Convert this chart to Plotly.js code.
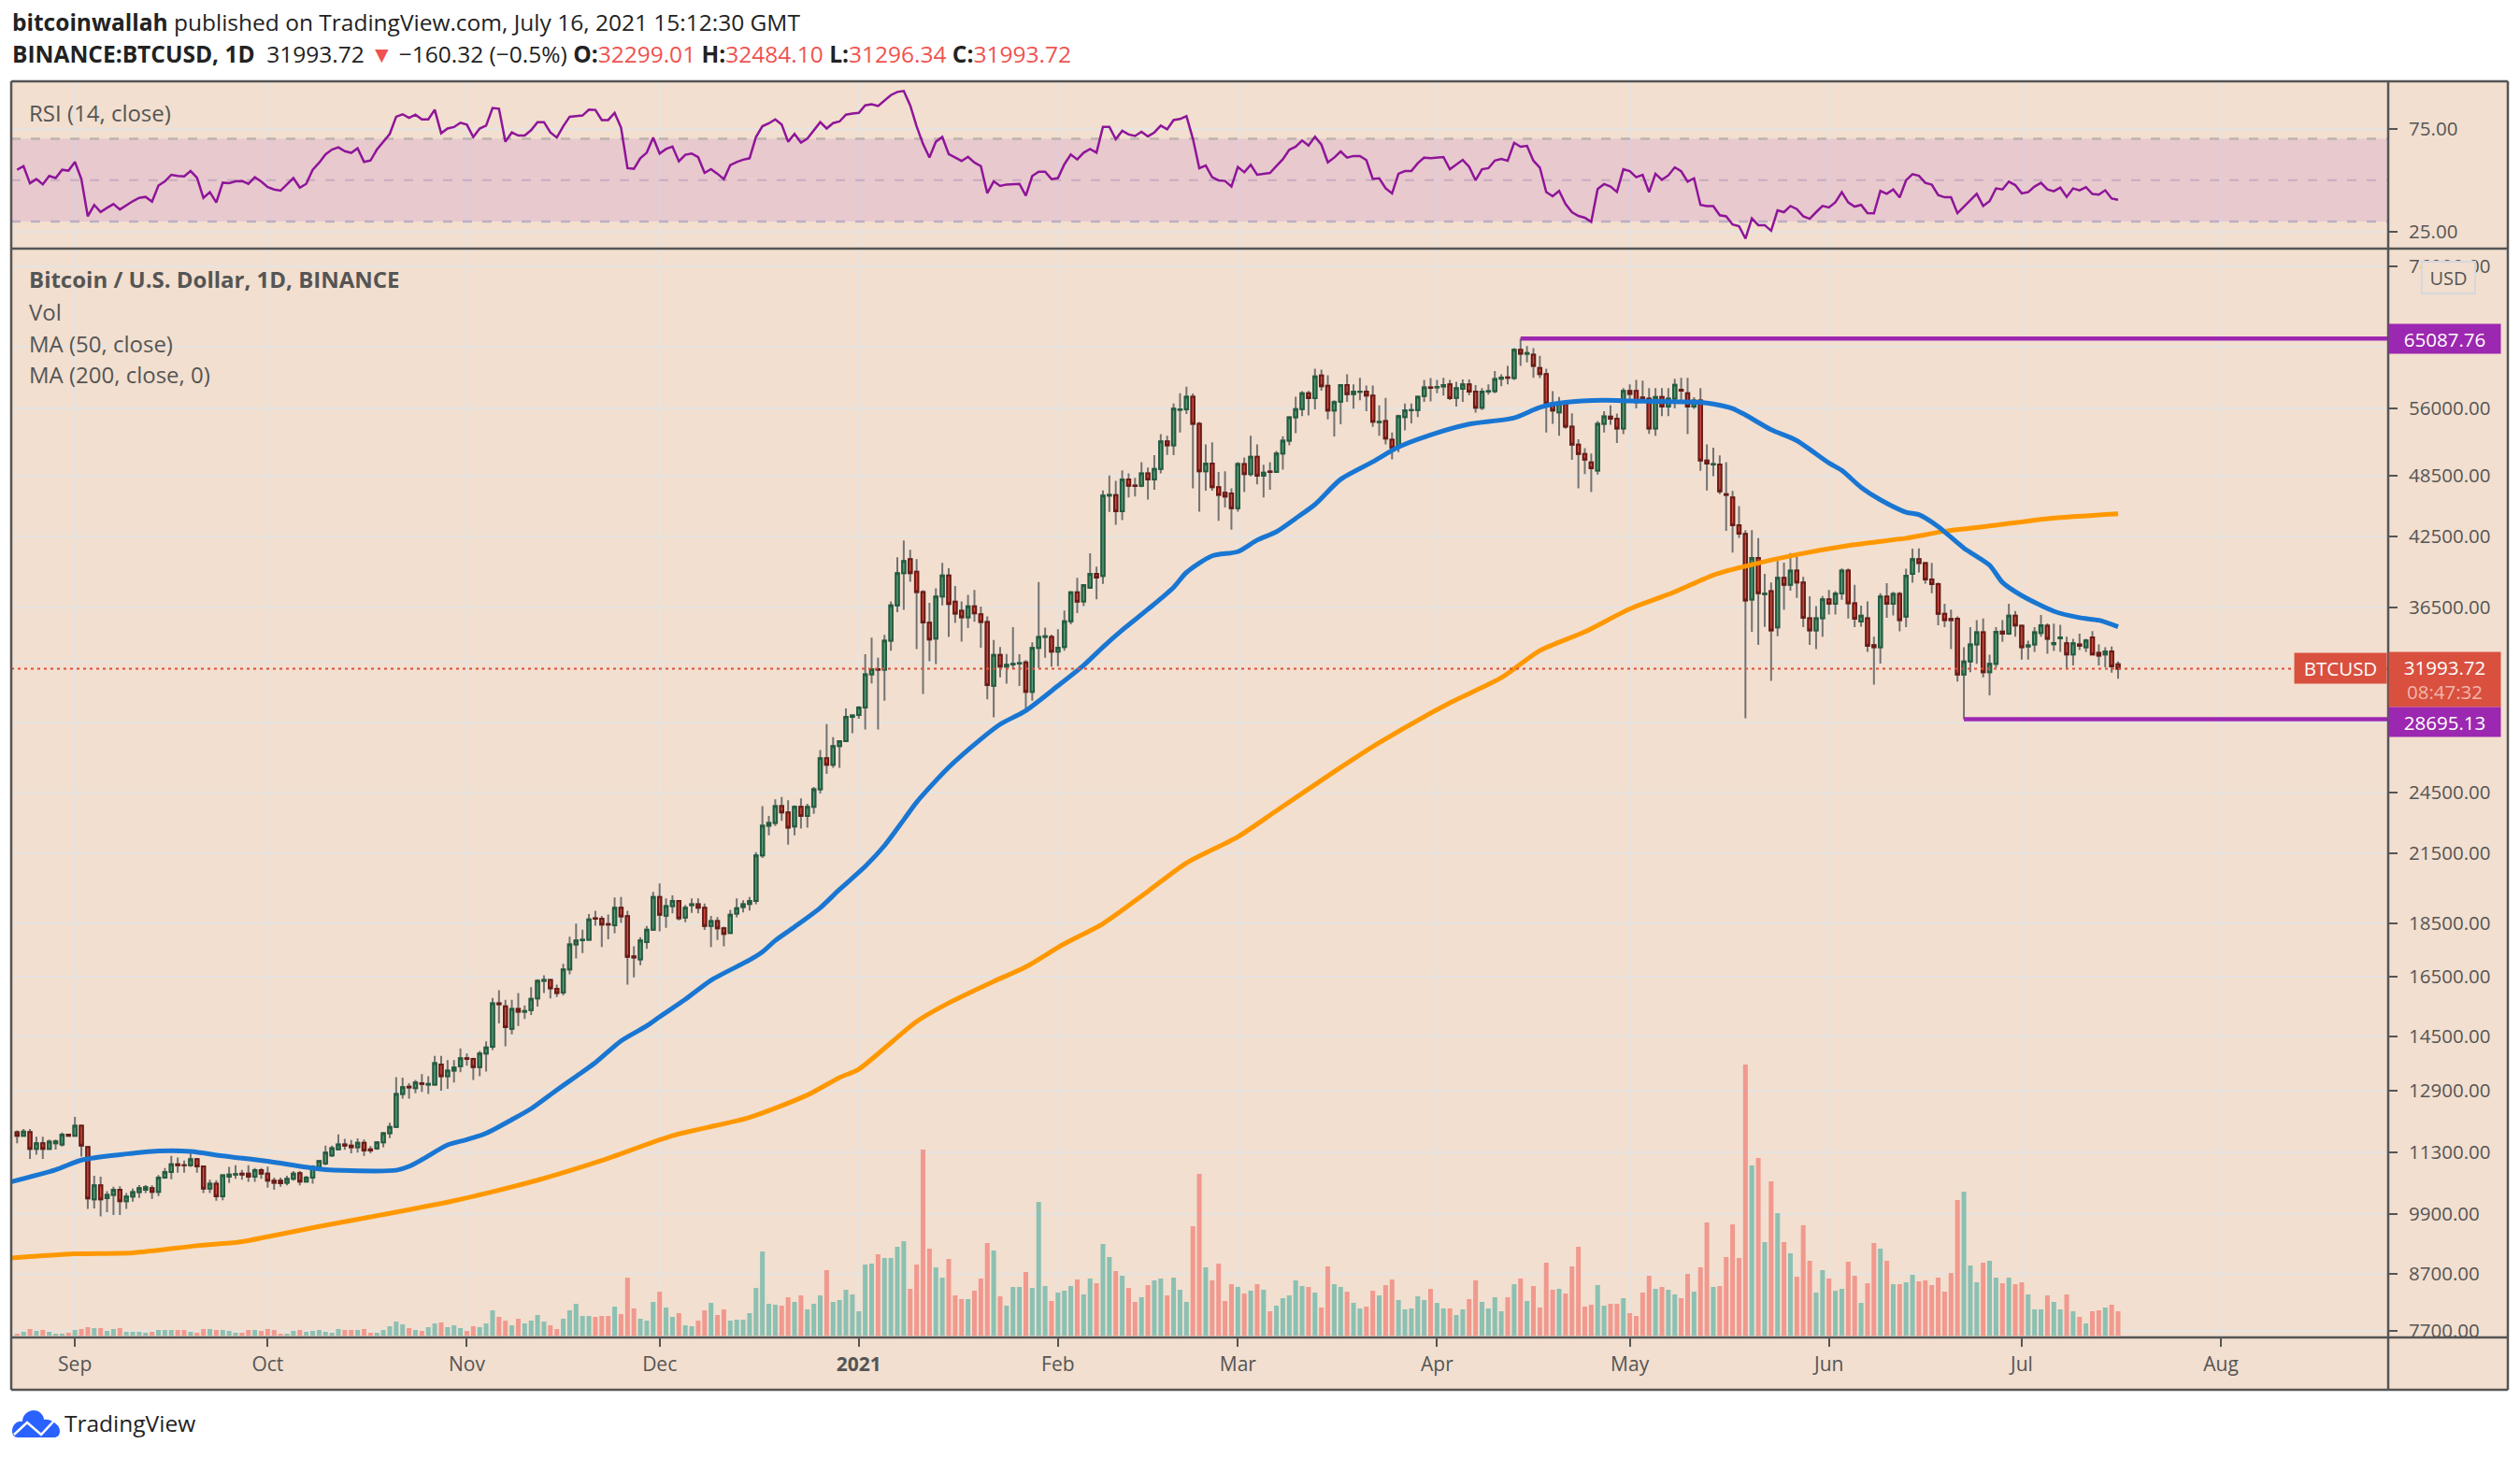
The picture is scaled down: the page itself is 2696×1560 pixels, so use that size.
<!DOCTYPE html>
<html>
<head>
<meta charset="utf-8">
<script src="https://cdn.plot.ly/plotly-3.0.1.min.js"></script>
<style>html,body{margin:0;padding:0;background:#fff}#chart{width:2696px;height:1560px}</style>
</head>
<body>
<div id="chart"></div>
<script>
// daily candles, 2020-08-23 .. 2021-07-16, one row per month
const opens = [
  11794,11707,11800,11383,11520,11383,11520,11490,11736,
  11705,11960,11430,10211,10525,10235,10310,10420,10170,10270,10370,10420,10460,10375,10700,10830,11010,10990,10985,11130,10960,10450,10560,10275,10720,10770,10790,10790,10720,10870,
  10790,10630,10630,10580,10670,10800,10610,10700,10950,11030,11220,11370,11490,11460,11420,11530,11370,11390,11540,11770,11930,12810,13010,12970,13110,13070,13070,13650,13310,13470,13600,
  13830,13810,13570,13970,14180,15570,15470,14740,15380,15290,15340,15730,16340,16370,16060,15930,16750,17670,17830,17850,18700,18680,18460,18420,19120,18780,17220,17110,17760,18240,
  19570,18800,19190,19400,18720,19230,19270,19120,18390,18580,18300,18110,18880,19150,19280,19400,21400,22810,22950,23800,23480,22780,23760,23300,23760,24680,26390,26010,27080,27370,28840,
  28960,29420,31610,31960,31920,33970,36660,39290,40490,39400,37730,35310,34130,37370,39100,36960,36240,35720,36590,35970,35370,30830,32950,32130,32280,32340,32420,30440,33450,34250,34250,
  33190,33520,35420,37700,36970,38090,39230,39060,46430,46480,44900,48070,47440,47410,48700,48070,49160,52170,51740,55850,55900,57430,54170,48930,49730,47270,46720,46650,
  45180,49700,48620,50480,48450,48900,48850,50840,52260,54960,55910,57860,57250,60110,58800,55750,56840,58900,57750,58030,58070,57570,54380,54520,52350,51470,54970,55770,55800,57530,58600,
  58600,58720,59000,57300,58420,59000,58080,56100,58060,58120,59700,59880,59800,63530,63000,62880,61090,60300,56620,55520,56620,53850,51820,50770,49860,49000,54190,55040,54780,53640,
  58150,58150,57350,57200,53640,57400,56240,57200,58300,57860,56240,56960,50060,49650,49640,46560,46240,43560,42750,37120,40600,37550,37800,34970,38890,38320,39510,38500,35650,34730,35650,
  37130,36780,37600,39510,36830,35400,35650,33650,33500,37360,36780,37570,35780,39230,40500,40140,38770,38380,36000,35600,35620,31590,32490,33710,34590,31750,32320,34650,34500,35850,
  35080,33560,33710,34550,35080,33720,34150,33790,32980,33700,33500,34220,33100,32990,33200,32299.01
]
const highs = [
  11840,11880,11880,11680,11680,11610,11615,11790,11750,
  12196,11990,11440,10740,10720,10390,10490,10500,10350,10450,10530,10530,10520,10760,10920,11210,11170,11100,11280,11160,10960,10650,10640,10770,10950,10990,10880,10990,10920,10920,
  10956,10700,10700,10740,10850,10850,10740,10990,11110,11460,11460,11740,11630,11600,11640,11610,11450,11570,11800,12040,13280,13270,13110,13200,13370,13310,13900,13900,13780,13780,14130,
  13970,13850,14050,14340,15750,16010,15690,15690,15920,15500,16120,16400,16540,16370,16210,16950,17970,18480,18240,18870,19000,18790,18850,19550,19570,19000,17600,17950,18390,19790,
  20150,19510,19640,19430,19240,19510,19510,19300,18790,18740,18360,19040,19510,19430,19570,21560,23800,23300,24150,24270,24100,23830,24200,23920,24800,26850,28400,27600,27400,29370,28980,
  29520,33000,34200,32760,34410,36980,40650,42150,41320,40490,37880,36860,38020,40170,39710,38220,36980,37490,37900,36570,35800,34020,33520,33020,34990,33000,32590,33860,38550,34940,34430,
  34830,36250,37800,38890,38370,41000,39850,46950,48480,47920,49010,48700,48230,49890,49320,50640,53000,52820,56600,57860,58700,57850,54400,51840,52080,48860,48930,47170,
  49890,50390,52820,51840,49610,49890,51100,52760,55000,57430,58130,58160,61000,60890,60150,57000,58940,60290,59000,59820,58850,58850,56370,57300,53190,55240,56600,56600,57540,59540,59800,
  59540,59820,59540,59300,59620,59620,58900,58500,59000,60700,60290,61380,63780,65087.76,64060,63780,62730,61000,58130,57400,56900,55420,52420,51430,50840,54500,55680,56370,55380,58500,
  59000,59540,59450,58520,58520,58520,58520,59700,59820,59820,57390,58520,51840,51470,50620,49890,46900,45400,43100,43100,42360,39230,38500,40330,40200,41030,40700,38980,37390,36600,37400,
  37900,37800,39690,39690,38320,36640,36970,34260,37630,38450,37740,37740,39670,41420,41450,40220,40170,38500,36780,36320,35800,33500,34990,35520,35640,32970,34990,35520,36780,36220,
  35100,33970,34990,35900,35270,35250,35160,34260,34110,34500,34110,34680,33700,33500,33550,32484.10
]
const lows = [
  11520,11700,11139,11241,11139,11360,11365,11440,11690,
  11690,11195,10000,10010,9840,9930,9870,9870,10000,10160,10240,10350,10220,10280,10670,10660,10810,10810,10950,10810,10350,10350,10180,10190,10575,10670,10650,10600,10600,10670,
  10470,10420,10490,10525,10630,10525,10600,10560,10880,10990,11180,11350,11360,11275,11290,11210,11275,11360,11420,11650,11930,12680,12680,12830,12870,12810,13050,12900,12950,13130,13420,
  13610,13200,13310,13440,14080,14910,14190,14560,14830,15050,15180,15460,15920,15730,15780,15840,16570,17150,17350,17860,18400,17570,17870,18100,18510,16210,16460,16900,17500,18200,
  18180,18310,18890,18610,18540,18910,18890,18230,17570,17840,17600,18080,18730,18930,19010,19270,21280,22350,22800,23060,21900,22350,22680,22720,23410,24450,25510,25850,25850,27370,27840,
  28730,28070,30990,28070,29850,33250,36130,36300,38560,33360,30300,32510,32310,36660,34250,35300,33910,34920,35390,33470,29950,28810,31390,30980,31980,30820,29240,29850,32030,32760,32130,
  32170,33250,35200,36060,36610,37980,37130,38400,44820,43600,44050,46240,46330,47280,46040,47020,48700,50670,50640,53190,55350,47150,44850,46930,46930,43970,45260,43150,
  44850,46780,48390,47560,46240,47010,48790,49100,51740,53090,55090,55160,55900,58200,54700,52740,54130,56800,55980,57010,55680,53830,52820,51840,50200,50970,53420,54240,54970,56800,56870,
  57860,57570,57020,56220,56800,57650,55500,55800,57700,57860,58740,59000,59540,61380,61850,59820,59800,53190,54170,52820,53600,50150,47150,48620,46780,48590,53190,54060,51990,52990,
  56860,56000,56800,53020,52820,55090,55090,56000,57000,53000,55950,48960,46950,48400,46570,43030,41070,42400,28750,34640,33670,35000,31160,34300,36300,37840,37260,34990,33670,33370,34260,
  35940,35940,37110,35640,34990,35010,33160,30910,32350,35700,35880,34670,34990,38490,39350,38420,37630,35120,34990,33370,31110,28695.13,31740,32320,31390,30210,32050,33890,34410,34270,
  32620,32620,33160,34270,33040,33230,33160,32040,32220,33300,33160,32910,32220,32080,31710,31296.34
]
const closes = [
  11707,11814,11383,11520,11383,11560,11565,11736,11705,
  11960,11460,10232,10525,10211,10310,10420,10170,10270,10370,10460,10480,10375,10700,10830,11010,10990,10985,11130,10960,10450,10560,10275,10750,10770,10780,10770,10720,10870,10790,
  10630,10580,10570,10670,10790,10610,10700,10950,11090,11290,11400,11490,11460,11420,11530,11340,11340,11540,11770,11930,12810,13000,12990,13130,13090,13090,13690,13310,13470,13560,13830,
  13810,13570,13970,14160,15570,15540,14790,15380,15290,15310,15720,16340,16370,16080,15920,16750,17670,17820,17850,18650,18680,18440,18440,19120,18770,17210,17180,17820,18240,19570,
  18840,19190,19400,18700,19120,19270,19120,18390,18580,18300,18080,18840,19100,19270,19400,21400,22810,22950,23800,23480,22720,23760,23300,23760,24680,26390,26010,27080,27370,28840,28920,
  29420,31610,31960,31920,33970,36660,39290,40330,39290,37730,35340,34060,37370,39100,36770,36020,35720,36590,36040,35370,30880,32950,32130,32260,32320,32380,30440,33450,34250,34300,33190,
  33470,35420,37700,36950,38290,39230,38910,46430,46500,44900,48070,47410,47400,48700,48070,49160,52170,51740,55980,55900,57430,54170,48930,49730,47270,46500,46340,45180,
  49700,48620,50480,48450,48770,48850,50840,52260,54960,55910,57860,57250,60010,58740,55750,56770,58900,57750,58060,58070,57570,54420,54420,52500,51470,55090,55790,55800,57430,58600,58550,
  58650,58900,57250,58520,59000,58080,56100,58080,58120,59660,59850,59830,63530,63010,63100,61390,60300,56660,55750,56620,53850,51820,50770,50160,49240,54190,55060,54780,53640,58150,
  57780,56780,57200,53640,57400,56240,57200,58940,58200,56240,56960,50060,49750,49700,46860,46500,43560,42780,37040,40600,37630,37600,34730,38890,38320,39510,38500,35700,34730,35650,37130,
  36780,37600,39510,36830,35620,35850,33600,33500,37360,36780,37570,35520,39070,40500,40140,38770,38380,36000,35520,35520,31590,32490,33710,34590,31750,32320,34640,34500,35850,35100,
  33500,33640,34590,35120,34110,33800,34220,32980,33790,33600,34000,32990,32900,33200,32154,31993.72
]
const volumes = [
  2,4,7,5,6,4,2,2,3,
  6,7,9,8,8,5,7,8,4,4,4,3,4,6,6,6,6,6,4,3,7,7,6,6,5,3,3,6,6,5,
  7,6,2,2,5,6,4,5,6,4,3,7,6,6,6,7,3,3,6,10,15,12,8,6,5,9,13,14,9,11,8,
  5,10,9,13,27,20,16,11,18,13,16,22,15,11,7,18,27,34,21,21,20,21,21,31,23,62,29,18,16,36,
  47,30,20,24,11,10,16,27,35,22,28,16,17,17,24,51,90,34,33,32,41,36,43,28,34,43,70,36,38,49,44,
  26,76,77,87,83,83,95,101,50,76,199,93,73,62,82,43,39,39,48,61,99,91,42,32,52,52,68,51,143,53,37,
  46,48,53,60,44,61,56,98,84,69,64,51,36,41,54,59,61,43,62,49,36,117,173,73,59,77,37,55,
  52,45,48,55,49,26,32,40,43,59,53,52,46,30,74,55,52,47,35,29,31,48,43,54,60,38,28,29,42,38,50,
  35,29,29,22,28,39,59,36,29,41,26,41,55,61,37,53,30,78,49,50,45,74,95,31,33,54,32,34,34,40,
  24,21,46,64,50,52,49,44,40,66,47,73,121,52,53,84,119,83,290,182,190,100,165,131,100,88,63,118,80,46,70,
  61,48,50,79,64,35,56,99,93,80,55,55,57,65,58,59,54,62,47,67,145,154,75,57,78,80,62,56,62,55,
  57,44,28,28,43,36,28,44,26,20,13,26,27,30,33,26
]
const rsi = [
  55,56.8,48.5,50.5,48,52,51,55,54.6,
  58.8,50.5,32.5,38,34.6,36.6,38.4,35.8,38,39.8,41.4,41.9,39.6,47.4,49.4,52.6,52,51.8,54.4,51.2,41.4,44.2,39.2,48.8,48.5,49.4,49.6,48.2,51.4,49.3,
  46.6,45.5,44.9,48.2,51,46.4,48.2,55,58.4,62.5,64.8,65.9,64,63.2,65.4,58.8,59.5,64.8,68.6,72.4,80.7,81.9,80.2,81.7,79.4,79.4,84.1,72.7,75,75.7,77.8,
  76.9,70.9,75,76.4,84.9,84.6,68.6,73.1,71.6,71.6,74.2,78.1,78.1,73.1,70.6,76.1,80.7,81,81.3,84.1,84,79.1,79.1,82.6,75.4,55.8,55.5,60.6,63.3,70.6,
  62.9,65.1,66.3,59.1,62.3,62.9,61.1,53.5,55.3,53.1,50.5,57.3,58.8,59.9,60.6,70.9,76.1,77.5,79.4,76.9,68.6,72.4,68.2,70.1,73.9,78.1,75,77.6,78.4,81.7,82.2,
  82.6,86.2,86.7,85.9,88.6,91.2,92.7,93.2,86.2,76.1,67.5,61,68.6,70.9,62.6,60.8,59.3,61.3,58.5,56.8,43.7,49.4,47.2,47.9,47.9,48.2,42.5,52,54.1,54.1,50.5,
  51,57.7,62.4,60,63.3,65.1,63.3,75.8,75.8,69.8,73.9,72.1,71.4,73.4,71.2,73.1,76.4,74.6,79.1,79.6,81,70.1,55.8,57.1,51.4,49.9,49.6,46.9,
  56.4,53.8,57.4,52.6,53.2,53.5,56.8,60.1,64.7,66.2,69.2,66.8,71,67.2,58.6,60.9,63.9,60.9,61.7,61.7,59.7,50.6,50.9,46.1,43.6,53.1,54.4,54.4,58.2,60.9,60.6,
  60.9,61.2,55.3,57.6,59.8,56.5,49.9,55.3,55.8,59.5,60.3,59.4,68.1,66.2,66.6,59.4,56.1,44.2,42.2,44.8,38.4,34.5,32.7,31.8,29.8,45.7,48.1,46.9,44.3,55.3,
  54.4,51.4,52.6,44.2,53.1,50.2,52.3,56.2,54.3,49.3,50.9,38,37.5,37.4,33,32.5,28.5,27.7,21.7,31.5,28.2,28.2,25.5,35.4,34.5,37.5,36,32.5,31.3,34.5,37.5,
  36.8,39.3,44.2,39.2,37.2,38,34,33.9,44.8,43.4,45.5,41.6,49.9,52.9,52.1,48.7,47.8,42.8,41.7,41.7,34,37.1,40.2,43.4,37.5,39.8,46,45.5,49.3,47.6,
  43.6,44.2,46.9,48.7,45.5,44.6,46.4,41.9,46,45.1,46.6,43.3,43,45.1,41.1,40.5
]

// moving averages, read at knots along the curves
const ma50Dates = ['2020-08-22','2020-08-29','2020-09-02','2020-09-08','2020-09-14','2020-09-19','2020-09-24','2020-10-01','2020-10-09','2020-10-14','2020-10-21','2020-10-23','2020-10-25','2020-10-29','2020-11-01','2020-11-04','2020-11-08','2020-11-11','2020-11-15','2020-11-18','2020-11-21','2020-11-25','2020-11-29','2020-12-01','2020-12-05','2020-12-09','2020-12-15','2020-12-17','2020-12-19','2020-12-22','2020-12-26','2020-12-29','2021-01-02','2021-01-05','2021-01-08','2021-01-10','2021-01-15','2021-01-20','2021-01-23','2021-01-27','2021-02-01','2021-02-05','2021-02-08','2021-02-11','2021-02-15','2021-02-19','2021-02-21','2021-02-25','2021-03-01','2021-03-04','2021-03-07','2021-03-10','2021-03-13','2021-03-17','2021-03-22','2021-03-26','2021-04-01','2021-04-06','2021-04-13','2021-04-17','2021-04-21','2021-04-27','2021-05-01','2021-05-12','2021-05-14','2021-05-17','2021-05-19','2021-05-23','2021-05-27','2021-06-01','2021-06-03','2021-06-06','2021-06-09','2021-06-13','2021-06-15','2021-06-18','2021-06-22','2021-06-26','2021-06-28','2021-07-01','2021-07-06','2021-07-10','2021-07-13','2021-07-16']
const ma50 = [10600,10880,11110,11240,11330,11320,11210,11080,10900,10860,10870,10960,11120,11480,11610,11770,12120,12410,12920,13300,13700,14360,14830,15120,15700,16360,17090,17390,17820,18350,19120,19890,20900,21860,23110,24000,25870,27490,28380,29230,30830,32220,33510,34760,36350,38110,39350,40780,41150,42190,42950,44200,45550,48080,49930,51540,53140,54150,54880,56140,56740,56990,56930,56740,56550,56000,55230,53500,52260,49800,49020,47260,46010,44800,44560,43430,41470,39970,38520,37440,36200,35700,35500,35010]
const ma200Dates = ['2020-08-22','2020-09-01','2020-09-10','2020-09-20','2020-09-27','2020-10-01','2020-10-09','2020-10-19','2020-10-30','2020-11-12','2020-11-22','2020-12-03','2020-12-15','2020-12-24','2020-12-29','2021-01-01','2021-01-10','2021-01-15','2021-01-22','2021-01-27','2021-02-02','2021-02-08','2021-02-15','2021-02-21','2021-03-01','2021-03-07','2021-03-16','2021-03-23','2021-04-03','2021-04-11','2021-04-17','2021-04-24','2021-05-01','2021-05-08','2021-05-14','2021-05-19','2021-05-27','2021-06-04','2021-06-13','2021-06-19','2021-06-27','2021-07-05','2021-07-16']
const ma200 = [9000,9080,9100,9240,9320,9420,9630,9880,10180,10640,11100,11710,12180,12780,13270,13510,14970,15580,16320,16840,17700,18480,19810,21060,22280,23560,25630,27280,29720,31370,33260,34630,36380,37740,39130,39880,40890,41690,42360,43000,43560,44180,44640]

const rangeStart = '2020-08-22 02:00', rangeEnd = '2021-08-27 01:00'
const highLevel = 65087.76, lowLevel = 28695.13, lastPrice = 31993.72
const highStart = '2021-04-14', lowStart = '2021-06-22'

const priceTicks = [76000,64000,56000,48500,42500,36500,32500,28500,24500,21500,18500,16500,14500,12900,11300,9900,8700,7700]
const rsiTicks = [75,25]
const monthTicks = ['2020-09-01','2020-10-01','2020-11-01','2020-12-01','2021-01-01','2021-02-01','2021-03-01','2021-04-01','2021-05-01','2021-06-01','2021-07-01','2021-08-01']
const monthLabels = ['Sep','Oct','Nov','Dec','<b>2021</b>','Feb','Mar','Apr','May','Jun','Jul','Aug']

const W = 2696, H = 1560
const px = v => v / W
const py = v => 1 - v / H
const FONT = '"Open Sans", sans-serif'
const INK = '#555555', FRAME = '#555555', GRID = '#e6e3e1', BG = '#f2dfcf'
const RED = '#d9503f', PURPLE = '#9c27b0'

const dates = opens.map((_, i) => {
    let d = new Date(Date.UTC(2020, 7, 23 + i))
    return d.toISOString().slice(0, 10)
})

let traces = [
    {
        type: 'bar', x: dates, y: volumes, yaxis: 'y2', hoverinfo: 'skip',
        marker: { color: closes.map((c, i) => c >= opens[i] ? '#8bc0b2' : '#f1998e'), line: { width: 0 } }
    },
    {
        // wicks are grey in the reference, so they get their own trace under the bodies
        type: 'candlestick', x: dates, open: opens, high: highs, low: lows, close: closes,
        whiskerwidth: 0, hoverinfo: 'skip',
        increasing: { line: { color: '#737373', width: 2 }, fillcolor: '#737373' },
        decreasing: { line: { color: '#737373', width: 2 }, fillcolor: '#737373' }
    },
    {
        type: 'candlestick', x: dates, open: opens, close: closes,
        high: opens.map((o, i) => Math.max(o, closes[i])),
        low: opens.map((o, i) => Math.min(o, closes[i])),
        whiskerwidth: 0,
        increasing: { line: { color: '#235c3f', width: 2 }, fillcolor: '#5c9e7c' },
        decreasing: { line: { color: '#6b1a16', width: 2 }, fillcolor: '#d64f3e' }
    },
    { type: 'scatter', mode: 'lines', x: ma200Dates, y: ma200, line: { color: '#ff9800', width: 5, shape: 'spline', smoothing: 0.7 }, hoverinfo: 'skip' },
    { type: 'scatter', mode: 'lines', x: ma50Dates, y: ma50, line: { color: '#1976d2', width: 5, shape: 'spline', smoothing: 0.7 }, hoverinfo: 'skip' },
    { type: 'scatter', mode: 'lines', x: [highStart, rangeEnd], y: [highLevel, highLevel], line: { color: PURPLE, width: 4.5 }, hoverinfo: 'skip' },
    { type: 'scatter', mode: 'lines', x: [lowStart, rangeEnd], y: [lowLevel, lowLevel], line: { color: PURPLE, width: 4.5 }, hoverinfo: 'skip' },
    { type: 'scatter', mode: 'lines', x: [rangeStart, rangeEnd], y: [lastPrice, lastPrice], line: { color: RED, width: 2, dash: '3px,4px' }, hoverinfo: 'skip' },
    { type: 'scatter', mode: 'lines', x: dates, y: rsi, yaxis: 'y3', line: { color: '#8e1599', width: 2.5 }, hoverinfo: 'skip' }
]

function frameLine(x0, y0, x1, y1, width) {
    return { type: 'line', xref: 'paper', yref: 'paper', x0: px(x0), y0: py(y0), x1: px(x1), y1: py(y1), line: { color: FRAME, width: width || 2.5 }, layer: 'above' }
}
function rsiLine(level, color, width) {
    return { type: 'line', xref: 'x', yref: 'y3', x0: rangeStart, x1: rangeEnd, y0: level, y1: level, line: { color: color, width: width, dash: '10px,11px' }, layer: 'between' }
}
function pt(x, y) { return px(x) + ' ' + py(y) }

let shapes = [
    { type: 'rect', xref: 'paper', yref: 'paper', x0: px(12), x1: px(2683), y0: py(87), y1: py(1487), fillcolor: BG, line: { width: 0 }, layer: 'below' },
    { type: 'rect', xref: 'x', yref: 'y3', x0: rangeStart, x1: rangeEnd, y0: 30, y1: 70, fillcolor: 'rgba(156,30,200,0.11)', line: { width: 0 }, layer: 'between' },
    rsiLine(70, '#bdb3af', 2.5), rsiLine(50, 'rgba(150,130,170,0.4)', 2), rsiLine(30, '#bcaec4', 2.5),
    frameLine(12, 87, 2683, 87), frameLine(12, 1487, 2683, 1487), frameLine(12, 87, 12, 1487), frameLine(2683, 87, 2683, 1487),
    frameLine(12, 266, 2683, 266), frameLine(12, 1431, 2683, 1431), frameLine(2555, 87, 2555, 1487),
    // TradingView mark
    {
        type: 'path', xref: 'paper', yref: 'paper', fillcolor: '#2962ff', line: { width: 0 }, layer: 'above',
        path: 'M ' + pt(13, 1531) + ' C ' + pt(13, 1524) + ' ' + pt(19, 1520) + ' ' + pt(24, 1521) + ' C ' + pt(24, 1513) + ' ' + pt(31, 1509) + ' ' + pt(36, 1509) + ' C ' + pt(42, 1509) + ' ' + pt(47, 1514) + ' ' + pt(47, 1519) + ' C ' + pt(53, 1517) + ' ' + pt(64, 1524) + ' ' + pt(64, 1531) + ' C ' + pt(64, 1536) + ' ' + pt(61, 1538) + ' ' + pt(58, 1538) + ' L ' + pt(19, 1538) + ' C ' + pt(15, 1538) + ' ' + pt(13, 1535) + ' ' + pt(13, 1531) + ' Z'
    },
    {
        type: 'path', xref: 'paper', yref: 'paper', line: { color: '#ffffff', width: 2.5 }, layer: 'above',
        path: 'M ' + pt(15, 1535) + ' L ' + pt(29, 1522) + ' L ' + pt(44, 1535) + ' L ' + pt(58, 1520)
    }
]

function note(x, y, text, opts) {
    return Object.assign({
        xref: 'paper', yref: 'paper', x: px(x), y: py(y), text: text, showarrow: false,
        xanchor: 'left', yanchor: 'middle', borderpad: 0,
        font: { family: FONT, size: 24, color: INK }
    }, opts || {})
}
function tag(x, y, w, h, text, bg, size) {
    return note(x, y, text, { width: w, height: h, bgcolor: bg, align: 'center', valign: 'middle', font: { family: FONT, size: size || 20.5, color: '#ffffff' } })
}
const red = t => '<span style="color:#ef5350">' + t + '</span>'

let annotations = [
    note(12, 24, '<b>bitcoinwallah</b> published on TradingView.com, July 16, 2021 15:12:30 GMT', { font: { family: FONT, size: 24.5, color: '#222222' } }),
    note(12, 58, '<b>BINANCE:BTCUSD, 1D</b>  31993.72 ' + red('▼') + ' −160.32 (−0.5%) <b>O:</b>' + red('32299.01') + ' <b>H:</b>' + red('32484.10') + ' <b>L:</b>' + red('31296.34') + ' <b>C:</b>' + red('31993.72'), { font: { family: FONT, size: 24.5, color: '#222222' } }),
    note(30, 121, 'RSI (14, close)'),
    note(30, 298, '<b>Bitcoin / U.S. Dollar, 1D, BINANCE</b>'),
    note(30, 333, 'Vol'),
    note(30, 367, 'MA (50, close)'),
    note(30, 401, 'MA (200, close, 0)'),
    note(2590, 297, 'USD', { width: 55, height: 32, bgcolor: BG, bordercolor: '#d5d8de', borderwidth: 2, align: 'center', valign: 'middle', font: { family: FONT, size: 20, color: INK } }),
    tag(2555, 362, 119, 31, highLevel.toFixed(2), PURPLE),
    tag(2454, 715, 98, 32, 'BTCUSD', RED),
    tag(2555, 727, 119, 58, lastPrice.toFixed(2) + '<br><span style="color:#f2b6ab">08:47:32</span>', RED),
    tag(2555, 772, 119, 31, lowLevel.toFixed(2), PURPLE),
    note(68, 1522, 'TradingView', { font: { family: FONT, size: 24.5, color: '#222222' } })
]

let layout = {
    width: W, height: H,
    margin: { l: 0, r: 0, t: 0, b: 0 },
    paper_bgcolor: '#ffffff', plot_bgcolor: 'rgba(0,0,0,0)',
    showlegend: false, bargap: 0.27,
    font: { family: FONT, color: INK },
    shapes: shapes, annotations: annotations,
    xaxis: {
        type: 'date', domain: [px(12), px(2555)], range: [rangeStart, rangeEnd], anchor: 'y',
        rangeslider: { visible: false }, tickmode: 'array', tickvals: monthTicks, ticktext: monthLabels,
        showgrid: true, gridcolor: GRID, gridwidth: 2, zeroline: false,
        ticks: 'outside', ticklen: 9, tickwidth: 2, tickcolor: FRAME, tickfont: { family: FONT, size: 21, color: INK }, ticklabelstandoff: 1
    },
    yaxis: {
        type: 'log', domain: [py(1431), py(266)], range: [Math.log10(7585), Math.log10(79000)], side: 'right', anchor: 'x',
        tickmode: 'array', tickvals: priceTicks, ticktext: priceTicks.map(v => v.toFixed(2)),
        showgrid: true, gridcolor: GRID, gridwidth: 2, zeroline: false,
        ticks: 'outside', ticklen: 9, tickwidth: 2, tickcolor: FRAME, tickfont: { family: FONT, size: 20.5, color: INK }, ticklabelstandoff: 8
    },
    yaxis2: { overlaying: 'y', domain: [py(1431), py(266)], range: [-2, 1163], visible: false, anchor: 'x' },
    yaxis3: {
        domain: [py(266), py(87)], range: [75 - (266 - 137.5) / 2.21, 75 + (137.5 - 87) / 2.21], side: 'right', anchor: 'x',
        tickmode: 'array', tickvals: rsiTicks, ticktext: rsiTicks.map(v => v.toFixed(2)),
        showgrid: true, gridcolor: GRID, gridwidth: 2, zeroline: false,
        ticks: 'outside', ticklen: 9, tickwidth: 2, tickcolor: FRAME, tickfont: { family: FONT, size: 20.5, color: INK }, ticklabelstandoff: 8
    }
}

Plotly.newPlot('chart', traces, layout, { displayModeBar: false, staticPlot: true })
</script>
</body>
</html>
